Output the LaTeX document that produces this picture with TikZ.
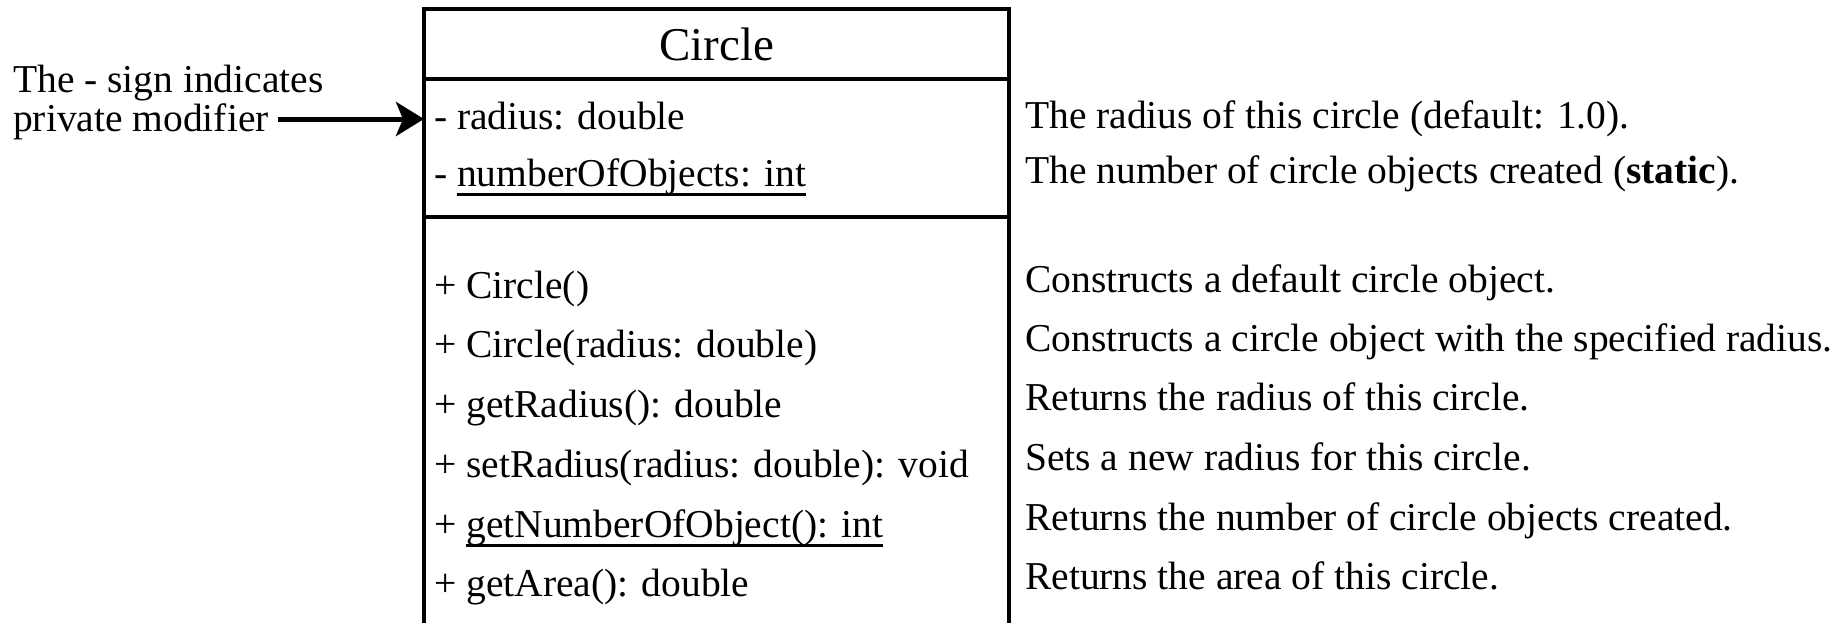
\documentclass[tikz,border=0pt]{standalone}
\usepackage{fontspec}
\setmainfont{Liberation Serif}
\usetikzlibrary{arrows.meta}
\newcommand{\myul}[1]{\setbox0=\hbox{#1}\rlap{\rule[-0.25em]{\wd0}{0.065em}}\box0}
\tikzset{
  txt/.style={anchor=base west, inner sep=0pt, font=\fontsize{39.5}{41}\selectfont},
  ttl/.style={anchor=base, inner sep=0pt, font=\fontsize{47}{49}\selectfont},
  boxline/.style={line width=3.3pt},
  arr/.style={line width=5pt, -{Stealth[length=28pt,width=34pt,inset=7pt]}}
}
\begin{document}
\begin{tikzpicture}[x=1pt,y=-1pt]
\useasboundingbox (0,0) rectangle (1839,622);
% class box
\coordinate (tl) at (424,9);
\coordinate (tr) at (1009,9);
\coordinate (bl) at (424,640);
\coordinate (br) at (1009,640);
\draw[boxline] (bl) -- (tl) -- (tr) -- (br);
\draw[boxline] (424,79) -- (1009,79);
\draw[boxline] (424,217) -- (1009,217);
\node[ttl] (title) at (716.5,60) {Circle};
% attributes
\node[txt] (a1) at (434,129) {- radius: double};
\node[txt] (a2) at (434,186) {- \myul{numberOfObjects: int}};
% methods
\node[txt] (m1) at (434,298) {+ Circle()};
\node[txt] (m2) at (434,357) {+ Circle(radius: double)};
\node[txt] (m3) at (434,417) {+ getRadius(): double};
\node[txt] (m4) at (434,477) {+ setRadius(radius: double): void};
\node[txt] (m5) at (434,537) {+ \myul{getNumberOfObject(): int}};
\node[txt] (m6) at (434,596) {+ getArea(): double};
% descriptions
\node[txt] (d1) at (1025,128) {The radius of this circle (default: 1.0).};
\node[txt] (d2) at (1025,183) {The number of circle objects created (\textbf{static}).};
\node[txt] (d3) at (1025,292) {Constructs a default circle object.};
\node[txt] (d4) at (1025,351) {Constructs a circle object with the specified radius.};
\node[txt] (d5) at (1025,410) {Returns the radius of this circle.};
\node[txt] (d6) at (1025,470) {Sets a new radius for this circle.};
\node[txt] (d7) at (1025,530) {Returns the number of circle objects created.};
\node[txt] (d8) at (1025,589) {Returns the area of this circle.};
% note
\node[txt] (n1) at (13,92) {The - sign indicates};
\node[txt] (n2) at (13,131) {private modifier};
\coordinate (arrS) at (278,119);
\coordinate (arrE) at (424,119);
\draw[arr] (arrS) -- (arrE);
\end{tikzpicture}
\end{document}
